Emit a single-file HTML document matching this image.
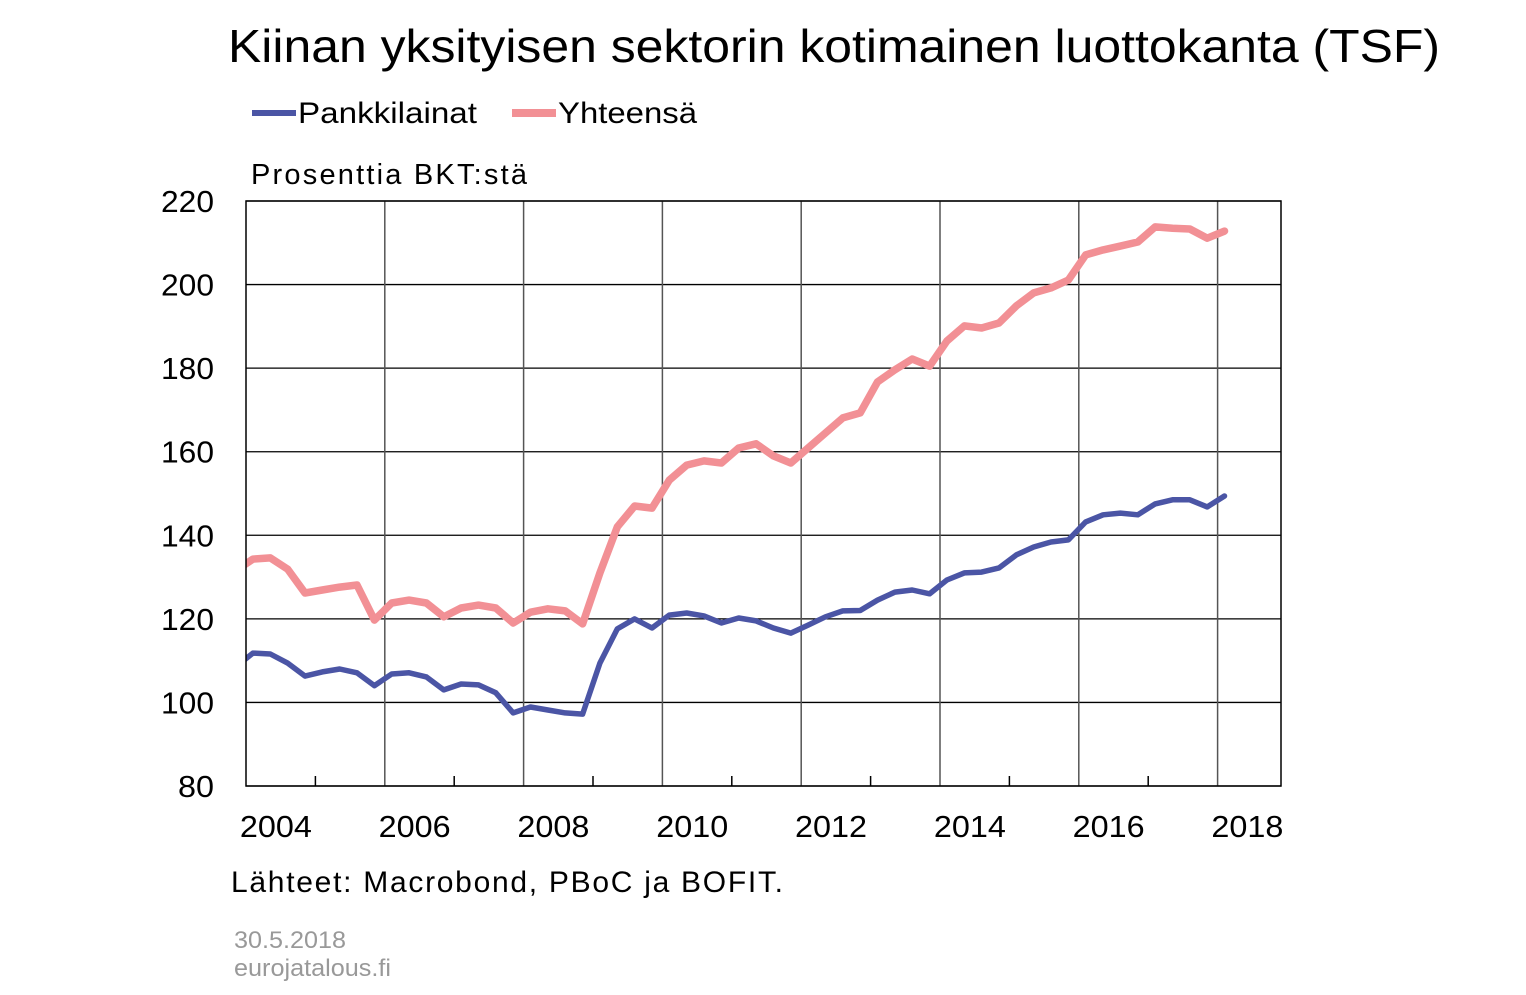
<!DOCTYPE html>
<html><head><meta charset="utf-8"><style>
body{margin:0;background:#fff;width:1526px;height:995px;overflow:hidden;font-family:"Liberation Sans",sans-serif}
svg{position:absolute;left:0;top:0}
</style></head><body>
<svg width="1526" height="995">
<text x="228" y="62" font-size="46" textLength="1212" lengthAdjust="spacingAndGlyphs">Kiinan yksityisen sektorin kotimainen luottokanta (TSF)</text>
<g>
<line x1="252" y1="113" x2="296" y2="113" stroke="#4B55A5" stroke-width="6"/>
<text x="298" y="123" font-size="30" textLength="179" lengthAdjust="spacingAndGlyphs">Pankkilainat</text>
<line x1="512" y1="113" x2="556" y2="113" stroke="#F29095" stroke-width="8"/>
<text x="558" y="123" font-size="30" textLength="139" lengthAdjust="spacingAndGlyphs">Yhteensä</text>
</g>
<text x="251" y="184" font-size="29" textLength="276" lengthAdjust="spacing">Prosenttia BKT:stä</text>
<g id="grid"></g>
<g id="ylabels"></g>
<g id="xlabels"></g>
<clipPath id="cp"><rect x="246" y="150" width="1035" height="636"/></clipPath>
<g id="series" clip-path="url(#cp)"></g>
<rect x="246" y="201" width="1035" height="585" fill="none" stroke="#000" stroke-width="1.5"/>
<text x="231" y="892" font-size="30" textLength="552" lengthAdjust="spacing">Lähteet:  Macrobond,  PBoC  ja  BOFIT.</text>
<text x="234" y="948" font-size="24" fill="#999" textLength="112" lengthAdjust="spacingAndGlyphs">30.5.2018</text>
<text x="234" y="976" font-size="24" fill="#999" textLength="157" lengthAdjust="spacingAndGlyphs">eurojatalous.fi</text>
</svg>
<script>
const yTicks=[80,100,120,140,160,180,200,220];
const xYears=[2004,2006,2008,2010,2012,2014,2016,2018];
const startYear=2003.85;
const pankkilainat=[108.5,111.8,111.6,109.4,106.3,107.3,108.0,107.1,104.0,106.8,107.1,106.1,103.0,104.4,104.2,102.3,97.5,98.9,98.2,97.5,97.2,109.4,117.6,120.0,117.8,120.9,121.4,120.7,119.0,120.2,119.5,117.8,116.6,118.5,120.5,121.9,122.0,124.5,126.4,126.9,126.0,129.3,131.0,131.2,132.2,135.3,137.2,138.4,138.9,143.2,144.9,145.3,144.9,147.5,148.5,148.5,146.8,149.4];
const yhteensa=[131.5,134.3,134.6,131.9,126.2,126.9,127.6,128.1,119.7,123.8,124.5,123.8,120.5,122.6,123.3,122.6,119.0,121.6,122.4,121.9,118.8,131.0,142.0,147.0,146.5,153.2,156.8,157.8,157.3,160.9,161.9,159.0,157.3,160.9,164.5,168.1,169.3,176.7,179.6,182.2,180.5,186.5,190.1,189.6,190.8,194.9,198.0,199.2,201.1,207.1,208.3,209.2,210.2,213.8,213.5,213.3,211.1,212.8];
const NS='http://www.w3.org/2000/svg';
const X=t=>246+(t-2004)*69.4;
const Y=v=>786-(v-80)*585/140;
function mk(tag,attrs,parent,text){const e=document.createElementNS(NS,tag);for(const k in attrs)e.setAttribute(k,attrs[k]);if(text!==undefined)e.textContent=text;parent.appendChild(e);return e;}
const grid=document.getElementById('grid'),yl=document.getElementById('ylabels'),xl=document.getElementById('xlabels'),ser=document.getElementById('series');
yTicks.forEach(v=>{
  const l=mk('line',{x1:246,x2:1281,y1:Y(v),y2:Y(v),stroke:'#000','stroke-width':1.3},grid);
  
  
  const s=String(v);
  const t=mk('text',{x:214-(s.length===3?53:36),y:Y(v)+11,'font-size':31,textLength:s.length===3?53:36,lengthAdjust:'spacingAndGlyphs'},yl,s);
  
  
});
for(let yr=2005;yr<=2018;yr++){
  const even=yr%2===0;
  const l=mk('line',{x1:X(yr),x2:X(yr),y1:even?201:776,y2:786,stroke:even?'#555':'#000','stroke-width':1.5},grid);
  
  
}
xYears.forEach(yr=>{
  const t=mk('text',{x:X(yr+0.43)-36,y:837,'font-size':31,textLength:72,lengthAdjust:'spacingAndGlyphs'},xl,String(yr));
  
  
});
function line(arr,color,w,name){
  const pts=arr.map((v,i)=>X(startYear+i*0.25).toFixed(1)+','+Y(v).toFixed(1)).join(' ');
  const p=mk('polyline',{points:pts,fill:'none',stroke:color,'stroke-width':w,'stroke-linejoin':'round','stroke-linecap':'round'},ser);
  
  
}
line(yhteensa,'#F29095',7.5,'series-yhteensa');
line(pankkilainat,'#4B55A5',5.5,'series-pankkilainat');
</script>
</body></html>
